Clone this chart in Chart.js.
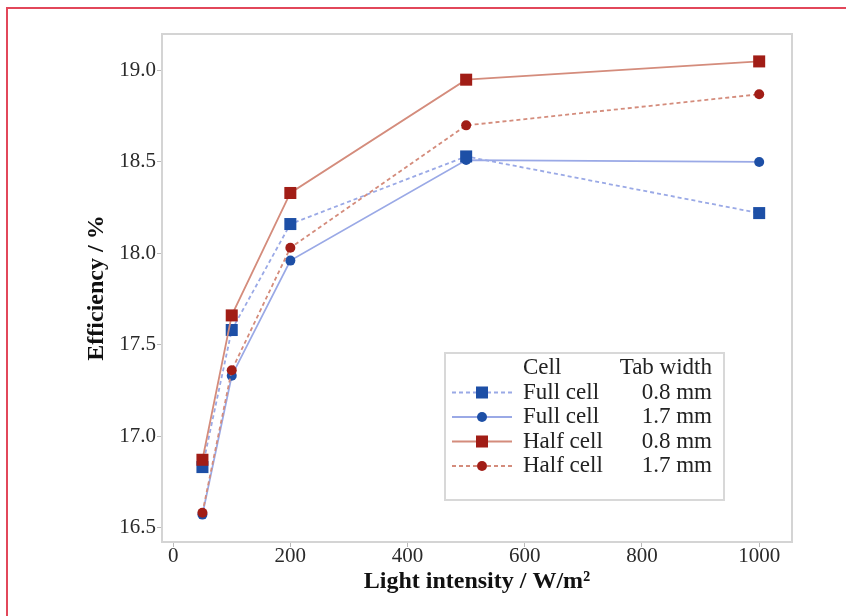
<!DOCTYPE html>
<html>
<head>
<meta charset="utf-8">
<script src="https://cdn.jsdelivr.net/npm/chart.js@4"></script>
<style>
  html, body { margin: 0; padding: 0; background: #fff; overflow: hidden; }
  #frame { position: absolute; left: 6px; top: 7px; width: 900px; height: 700px; border: 2px solid #e2475a; }
  #wrap { position: absolute; left: 0; top: 0; width: 846px; height: 616px; }
</style>
</head>
<body>
<div id="frame"></div>
<div id="wrap"><canvas id="effChart"></canvas></div>
<script>
const intensity = [50, 100, 200, 500, 1000];
const fullCell08 = [16.83, 17.58, 18.16, 18.53, 18.22];
const fullCell17 = [16.57, 17.33, 17.96, 18.51, 18.50];
const halfCell08 = [16.87, 17.66, 18.33, 18.95, 19.05];
const halfCell17 = [16.58, 17.36, 18.03, 18.70, 18.87];

const cellNames = ["Full cell", "Full cell", "Half cell", "Half cell"];
const tabWidths = ["0.8 mm", "1.7 mm", "0.8 mm", "1.7 mm"];

const xTicks = [0, 200, 400, 600, 800, 1000];
const yTicks = [16.5, 17.0, 17.5, 18.0, 18.5, 19.0];

const SERIF = "'Liberation Serif', 'DejaVu Serif', serif";
const blueMark = "#1d4fa6", blueLine = "#9aa9e6";
const redMark = "#a11d16", redLine = "#d48c7c";

function pts(ys) {
  return intensity.map((x, i) => ({ x: x, y: ys[i] }));
}

function series(label, ys, mark, line, style, dashed, order) {
  return {
    label: label,
    data: pts(ys),
    showLine: true,
    borderColor: line,
    borderWidth: 1.8,
    borderDash: dashed ? [4, 3] : [],
    backgroundColor: mark,
    pointBackgroundColor: mark,
    pointBorderColor: mark,
    pointBorderWidth: 0,
    pointStyle: style,
    pointRadius: style === "rect" ? 8.5 : 5,
    tension: 0,
    order: order
  };
}

// plot frame on the other two sides
const boxPlugin = {
  id: "box",
  beforeDatasetsDraw(chart) {
    const a = chart.chartArea, c = chart.ctx;
    c.save();
    c.strokeStyle = "#d4d4d4";
    c.lineWidth = 2;
    c.strokeRect(a.left, a.top, a.right - a.left, a.bottom - a.top);
    c.restore();
  }
};

// table-like legend
const legendPlugin = {
  id: "tableLegend",
  afterDraw(chart) {
    const c = chart.ctx;
    const bx = 445, by = 353, bw = 279, bh = 147;
    c.save();
    c.fillStyle = "#fff";
    c.fillRect(bx, by, bw, bh);
    c.strokeStyle = "#d8d8d8";
    c.lineWidth = 2;
    c.strokeRect(bx, by, bw, bh);

    c.font = "23px " + SERIF;
    c.fillStyle = "#222";
    c.textBaseline = "middle";
    const textL = 523, textR = 712, rowH = 24.5, y0 = 368;
    c.textAlign = "left";
    c.fillText("Cell", textL, y0);
    c.textAlign = "right";
    c.fillText("Tab width", textR, y0);

    chart.data.datasets.forEach((ds, i) => {
      const y = y0 + rowH * (i + 1);
      c.strokeStyle = ds.borderColor;
      c.lineWidth = ds.borderWidth;
      c.setLineDash(ds.borderDash);
      c.beginPath();
      c.moveTo(452, y);
      c.lineTo(512, y);
      c.stroke();
      c.setLineDash([]);
      c.fillStyle = ds.pointBackgroundColor;
      if (ds.pointStyle === "rect") {
        c.fillRect(482 - 6, y - 6, 12, 12);
      } else {
        c.beginPath();
        c.arc(482, y, 5, 0, Math.PI * 2);
        c.fill();
      }
      c.fillStyle = "#222";
      c.textAlign = "left";
      c.fillText(cellNames[i], textL, y);
      c.textAlign = "right";
      c.fillText(tabWidths[i], textR, y);
    });
    c.restore();
  }
};

new Chart(document.getElementById("effChart"), {
  type: "scatter",
  data: {
    datasets: [
      series("Full cell 0.8 mm", fullCell08, blueMark, blueLine, "rect", true, 2),
      series("Full cell 1.7 mm", fullCell17, blueMark, blueLine, "circle", false, 3),
      series("Half cell 0.8 mm", halfCell08, redMark, redLine, "rect", false, 0),
      series("Half cell 1.7 mm", halfCell17, redMark, redLine, "circle", true, 1)
    ]
  },
  options: {
    responsive: true,
    maintainAspectRatio: false,
    animation: false,
    layout: { padding: { top: 34, right: 54, left: 0, bottom: 0 } },
    plugins: {
      legend: { display: false },
      tooltip: { enabled: false }
    },
    scales: {
      x: {
        type: "linear",
        min: -19,
        max: 1056,
        afterBuildTicks: s => { s.ticks = xTicks.map(v => ({ value: v })); },
        afterFit: s => { s.height = 74; },
        grid: { drawOnChartArea: false, drawTicks: true, tickLength: 5, color: "#bbb" },
        border: { color: "#d4d4d4", width: 2 },
        ticks: {
          color: "#2a2a2a",
          padding: -3,
          font: { family: SERIF, size: 21 },
          callback: v => String(v)
        },
        title: {
          display: true,
          text: "Light intensity / W/m²",
          color: "#111",
          padding: { top: 0, bottom: 20 },
          font: { family: SERIF, size: 24, weight: "bold" }
        }
      },
      y: {
        min: 16.42,
        max: 19.2,
        afterBuildTicks: s => { s.ticks = yTicks.map(v => ({ value: v })); },
        afterFit: s => { s.width = 162; },
        grid: { drawOnChartArea: false, drawTicks: true, tickLength: 5, color: "#bbb" },
        border: { color: "#d4d4d4", width: 2 },
        ticks: {
          color: "#2a2a2a",
          padding: 1,
          font: { family: SERIF, size: 21 },
          callback: v => v.toFixed(1)
        },
        title: {
          display: true,
          text: "Efficiency / %",
          color: "#111",
          padding: { top: 82, bottom: 0 },
          font: { family: SERIF, size: 24, weight: "bold" }
        }
      }
    }
  },
  plugins: [boxPlugin, legendPlugin]
});
</script>
</body>
</html>
